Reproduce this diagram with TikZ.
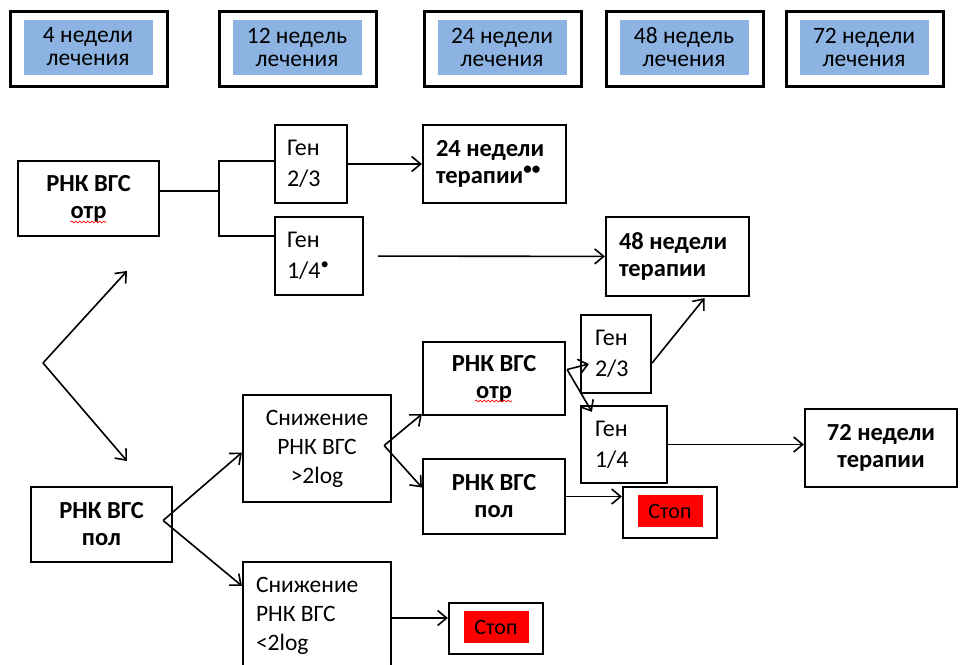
\documentclass[tikz,border=0pt]{standalone}
\usepackage{fontspec}
\setmainfont{Carlito}
\usetikzlibrary{positioning,calc,arrows.meta,decorations.pathmorphing}
\definecolor{hdrblue}{HTML}{8DB3E2}
\definecolor{stopred}{HTML}{FF0000}

\begin{document}
\begin{tikzpicture}[x=1pt, y=-1pt,
    box/.style={draw, line width=2.2pt, inner sep=0pt},
    hdr/.style={box, minimum width=157pt, minimum height=75pt},
    hdrin/.style={fill=hdrblue, minimum width=129pt, minimum height=55pt, inner sep=0pt, align=center, font=\fontsize{23.5}{23}\selectfont},
    bld/.style={box, align=center, font=\fontsize{24.5}{27}\selectfont\bfseries},
    reg/.style={box, font=\fontsize{24}{31}\selectfont},
    stopbox/.style={box, minimum width=94pt, minimum height=51pt},
    stopin/.style={fill=stopred, minimum width=65pt, minimum height=32pt, inner sep=0pt, font=\fontsize{22}{22}\selectfont},
    arr/.style={line width=1.6pt, -{Straight Barb[length=9pt, width=15pt]}},
    ln/.style={line width=1.6pt},
    squig/.style={red, line width=0.7pt, decorate, decoration={snake, amplitude=0.9pt, segment length=4pt}}]

    \clip (0,0) rectangle (960,664);

    % header row
    \foreach \x/\t [count=\i] in {89/4 недели, 298/12 недель, 503/24 недели, 685/48 недель, 865/72 недели} {
        \node[hdr] (H\i) at (\x,49) {};
        \node[hdrin] (L\i) at ($(H\i)+(-1,-2)$) {\t\\лечения};
    }

    % upper branch
    \node[bld, minimum width=141pt, minimum height=75pt] (N1) at (88.5,198.5) {РНК ВГС\\отр};
    \node[reg, text width=48pt, inner xsep=12pt, align=flush left, minimum height=78pt] (G1) at (311,164) {Ген\\2/3};
    \node[reg, text width=64pt, inner xsep=12pt, align=flush left, minimum height=78pt] (G2) at (319,256) {Ген\\1/4\textsuperscript{•}};
    \node[bld, text width=117pt, inner xsep=13pt, align=flush left, minimum height=78pt] (W24) at (494.5,164) {24 недели\\терапии\textsuperscript{••}};
    \node[bld, text width=117pt, inner xsep=13pt, align=flush left, minimum height=79pt] (W48) at (677.5,256.5) {48 недели\\терапии};
    \draw[squig] ($(N1)+(-18,23.5)$) -- ($(N1)+(18,23.5)$);

    % lower branch
    \node[bld, minimum width=141pt, minimum height=75pt] (P1) at (101.5,524.5) {РНК ВГС\\пол};
    \node[reg, align=center, minimum width=148pt, minimum height=107pt, font=\fontsize{23.5}{29}\selectfont] (S1) at (317,448.5) {Снижение\\РНК ВГС\\>2log};
    \node[reg, text width=122pt, inner xsep=13pt, align=flush left, minimum height=107pt, font=\fontsize{23.5}{29}\selectfont] (S2) at (317,615.5) {Снижение\\РНК ВГС\\<2log};
    \node[bld, minimum width=142pt, minimum height=73pt] (N2) at (494,378.5) {РНК ВГС\\отр};
    \node[bld, minimum width=142pt, minimum height=75pt] (P2) at (494,496.5) {РНК ВГС\\пол};
    \node[reg, text width=42pt, inner xsep=14pt, align=flush left, minimum height=78pt] (G3) at (616,354) {Ген\\2/3};
    \node[reg, text width=58pt, inner xsep=14pt, align=flush left, minimum height=77pt] (G4) at (624,444.5) {Ген\\1/4};
    \node[bld, minimum width=152pt, minimum height=78pt] (W72) at (881,448) {72 недели\\терапии};
    \node[stopbox] (X1) at (670,512.5) {};
    \node[stopin] (X1t) at ($(X1)+(0,-1.5)$) {Стоп};
    \node[stopbox] (X2) at (496,628.5) {};
    \node[stopin] (X2t) at ($(X2)+(0,-1.5)$) {Стоп};
    \draw[squig] ($(N2)+(-19,22.5)$) -- ($(N2)+(18,22.5)$);

    % connectors
    \coordinate (J) at (219,191);
    \coordinate (JT) at (219,161);
    \coordinate (JB) at (219,236);
    \draw[ln] (N1.east |- J) -- (J);
    \draw[ln] (G1.west |- JT) -- (JT) -- (JB) -- (G2.west |- JB);
    \draw[arr] (G1) -- (W24);
    \draw[arr, shorten <=14pt] (G2) -- (W48);

    \coordinate (A) at (43,363);
    \coordinate (A1) at (127,271);
    \coordinate (A2) at (127,461);
    \draw[arr] (A) -- (A1);
    \draw[arr] (A) -- (A2);

    \coordinate (B) at ($(P1.east)+(-10,-4)$);
    \draw[arr] (B) -- ($(S1.west)+(0,4)$);
    \draw[arr] (B) -- ($(S2.north west)+(0,25)$);
    \coordinate (C) at ($(S1.east)+(-8,-3)$);
    \draw[arr] (C) -- ($(N2.south west)+(0,-2)$);
    \draw[arr] (C) -- ($(P2.west)+(0,-9)$);
    \coordinate (D) at ($(N2.east)+(1,-9)$);
    \draw[arr] (D) -- ($(G3.west)+(9,10)$);
    \draw[arr] (D) -- ($(G4.north west)+(12,7)$);
    \draw[arr] ($(G3.east)+(0,9)$) -- ($(W48.south)+(27,1)$);
    \draw[arr] (G4.east) -- (G4.east -| W72.west);
    \draw[arr] (P2.east) -- (P2.east -| X1.west);
    \draw[arr] ($(S2.east)+(0,2.5)$) -- ($(S2.east -| X2.west)+(0,2.5)$);
\end{tikzpicture}
\end{document}
